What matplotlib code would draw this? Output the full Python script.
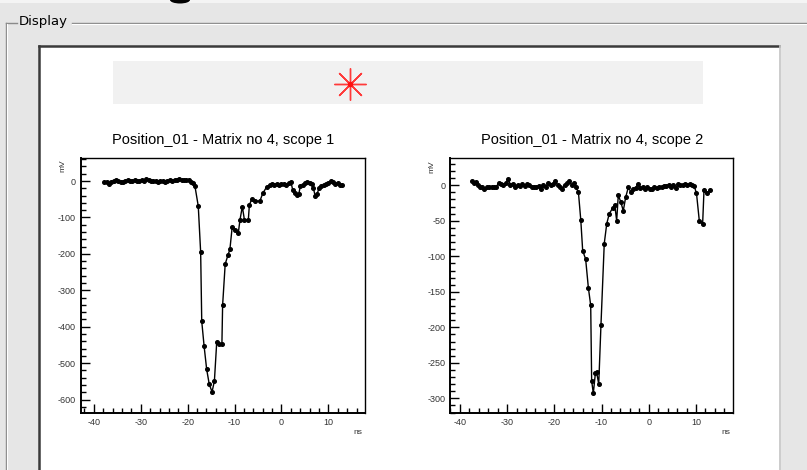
import matplotlib
matplotlib.use("Agg")
import matplotlib.pyplot as plt
from matplotlib.patches import Rectangle, Ellipse
from matplotlib.ticker import MultipleLocator

plt.rcParams['font.family'] = ['Liberation Sans', 'DejaVu Sans']
plt.rcParams['axes.unicode_minus'] = False

# scope 1 waveform (ns, mV)
t1 = [-37.8, -37.3, -36.8, -36.3, -35.8, -35.3, -34.8, -34.3, -33.8, -33.3,
      -32.8, -32.3, -31.8, -31.3, -30.8, -30.3, -29.8, -29.3, -28.8, -28.3,
      -27.8, -27.3, -26.8, -26.3, -25.8, -25.3, -24.8, -24.3, -23.8, -23.3,
      -22.8, -22.3, -21.8, -21.3, -20.8, -20.3, -19.8, -19.3, -18.9, -18.45,
      -17.74, -17.23, -17.0, -16.5, -15.95, -15.4, -14.8, -14.3, -13.8, -13.26,
      -12.7, -12.55, -12.0, -11.4, -11.0, -10.5, -9.9, -9.2, -8.85, -8.35,
      -7.9, -7.07, -6.85, -6.35, -5.6, -4.6, -4.0, -3.15, -2.5, -2.0,
      -1.5, -1.0, -0.5, 0.0, 0.5, 1.0, 1.5, 2.0, 2.4, 2.8,
      3.3, 3.7, 4.0, 4.5, 5.0, 5.5, 6.0, 6.5, 6.8, 7.2,
      7.6, 8.0, 8.5, 9.0, 9.5, 10.0, 10.5, 11.0, 11.5, 12.0,
      12.5, 13.0]
v1 = [-3, -2, -7, -3, 0, 3, 1, -2, -3, 0,
      2, 0, -1, 2, 0, 1, 2, 0, 5, 2,
      0, 1, -1, -2, 0, 1, -2, 0, 2, 1,
      3, 4, 5, 3, 2, 4, 2, -3, -5, -14,
      -69, -196, -385, -453, -517, -558, -579, -549, -441, -448,
      -447, -341, -228, -203, -188, -125, -135, -142, -107, -70,
      -107, -107, -66, -50, -55, -55, -34, -16, -12, -8,
      -10, -8, -10, -9, -7, -10, -6, -2, -25, -33,
      -38, -35, -15, -12, -5, -2, -5, -8, -20, -42,
      -35, -20, -15, -12, -8, -5, 0, -3, -8, -5,
      -10, -12]

# scope 2 waveform (ns, mV)
t2 = [-37.5, -37.0, -36.6, -36.2, -35.8, -35.3, -34.8, -34.3, -33.8, -33.3,
      -32.8, -32.3, -31.8, -31.3, -30.8, -30.3, -29.8, -29.3, -28.8, -28.3,
      -27.8, -27.3, -26.8, -26.3, -25.8, -25.3, -24.8, -24.3, -23.8, -23.3,
      -22.8, -22.3, -21.8, -21.3, -20.8, -20.3, -19.8, -19.3, -18.8, -18.3,
      -17.8, -17.3, -16.8, -16.3, -15.8, -15.4, -14.9, -14.4, -14.0, -13.37,
      -12.8, -12.3, -12.1, -11.75, -11.3, -11.05, -10.6, -10.13, -9.43, -8.9,
      -8.37, -7.65, -7.2, -6.8, -6.46, -5.95, -5.4, -4.9, -4.3, -3.8,
      -3.3, -2.8, -2.3, -1.8, -1.3, -0.8, -0.3, 0.2, 0.7, 1.2,
      1.7, 2.2, 2.7, 3.2, 3.7, 4.2, 4.7, 5.2, 5.7, 6.2,
      6.7, 7.2, 7.7, 8.2, 8.7, 9.2, 9.6, 10.1, 10.7, 11.4,
      11.7, 12.3, 13.0]
v2 = [6, 3, 5, 0, -2, -3, -5, -2, -3, -2,
      -3, -2, 3, 2, 1, 3, 9, 1, 2, -2,
      1, -1, 2, -1, 2, 0, -2, -2, -2, -1,
      -5, 0, -2, 3, 0, 2, 6, 0, -3, -5,
      0, 3, 6, 0, 3, -3, -10, -49, -92, -104,
      -144, -169, -275, -293, -264, -263, -280, -197, -82, -54,
      -40, -32, -28, -50, -14, -23, -36, -17, -2, -10,
      -5, -4, 2, -4, -3, -5, -3, -5, -5, -3,
      -4, -2, -2, -1, -1, 0, -3, 0, -4, 2,
      1, 1, 2, 0, 2, 0, -1, -11, -50, -55,
      -6, -11, -7]

titles = ["Position_01 - Matrix no 4, scope 1", "Position_01 - Matrix no 4, scope 2"]

W, H = 807, 470
fig = plt.figure(figsize=(W / 100, H / 100), dpi=100, facecolor='#e6e6e6')

# background drawn in pixel coordinates
bg = fig.add_axes([0, 0, 1, 1])
bg.set_xlim(0, W)
bg.set_ylim(H, 0)
bg.axis('off')

bg.add_patch(Rectangle((0, 0), W, 3, color='#f4f4f4', lw=0))
bg.add_patch(Ellipse((180, 0), 20, 7, color='black', lw=0))

# group frame "Display"
bg.plot([6, 17], [23, 23], color='#8a8a8a', lw=1)
bg.plot([72, W], [23, 23], color='#8a8a8a', lw=1)
bg.plot([6, 6], [23, H], color='#8a8a8a', lw=1)
bg.plot([7, 7], [24, H], color='white', lw=0.8)
bg.plot([72, W], [24, 24], color='white', lw=0.8)
bg.text(19, 22, "Display", fontsize=9.5, va='center', ha='left', color='black',
        family='DejaVu Sans')

# canvas
bg.add_patch(Rectangle((39, 46), 740, H - 46, facecolor='white', edgecolor='none'))
bg.plot([39, 779], [46, 46], color='#3a3a3a', lw=1.8)
bg.plot([39, 39], [46, H], color='#3a3a3a', lw=1.8)
bg.plot([780, 780], [46, H], color='#c8c8c8', lw=1.2)

# top pad with marker
bg.add_patch(Rectangle((113, 61), 590, 43, facecolor='#f1f1f1', edgecolor='none'))
bg.plot([350], [84], marker=(8, 2, 0), ms=23, mew=1.0, color='#ff3a3a')
bg.plot([350], [84], marker='o', ms=3, color='#ff1010')

boxes = [(80.7, 157.7, 365.0, 413.0), (450.0, 158.3, 733.3, 413.3)]
xlims = [(-42.8, 17.8), (-42.1, 17.9)]
ylims = [(-637, 64), (-321, 38)]
ymaj = [100, 50]
ymin = [20, 10]
series = [(t1, v1), (t2, v2)]

for i in range(2):
    x0, y0, x1, y1 = boxes[i]
    ax = fig.add_axes([x0 / W, 1 - y1 / H, (x1 - x0) / W, (y1 - y0) / H])
    t, v = series[i]
    ax.plot(t, v, color='black', lw=1.0, marker='o', ms=2.6)
    ax.set_xlim(*xlims[i])
    ax.set_ylim(*ylims[i])
    ax.xaxis.set_major_locator(MultipleLocator(10))
    ax.xaxis.set_minor_locator(MultipleLocator(2))
    ax.yaxis.set_major_locator(MultipleLocator(ymaj[i]))
    ax.yaxis.set_minor_locator(MultipleLocator(ymin[i]))
    ax.tick_params(which='both', direction='in', top=False, right=False,
                   labelsize=6.5, labelcolor='#333333', width=1.0)
    ax.tick_params(which='major', length=6.5, pad=3.5)
    ax.tick_params(which='minor', length=3.5)
    for s in ax.spines.values():
        s.set_linewidth(1.0)
    ax.spines['left'].set_linewidth(1.4)
    ax.spines['bottom'].set_linewidth(1.4)
    ax.set_title(titles[i], fontsize=10.5, pad=10)
    bg.text(x0 - 18, y0 + 8, "mV", rotation=90, fontsize=6, ha='center', va='center',
            color='#333333')
    bg.text(x1 - 3, 432, "ns", fontsize=6, ha='right', va='center', color='#333333')

fig.savefig("out.png", dpi=100, facecolor=fig.get_facecolor())
